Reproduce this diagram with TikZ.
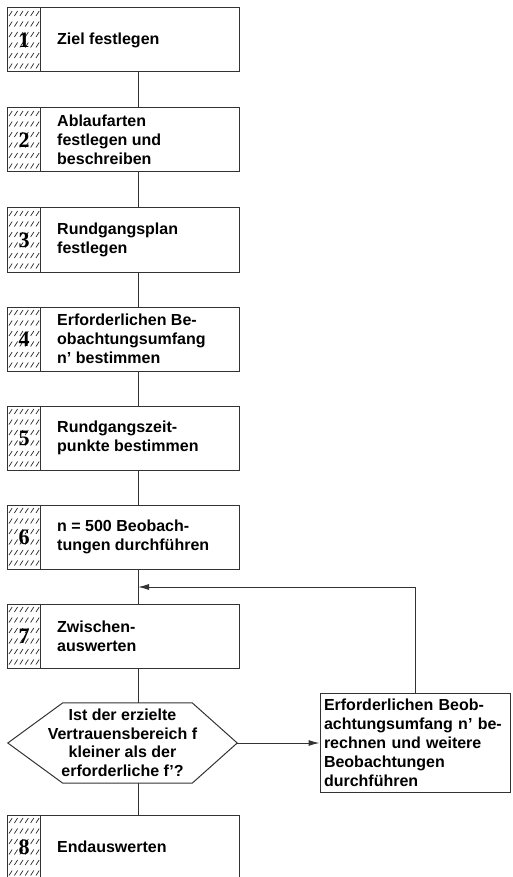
\documentclass[tikz,border=0pt]{standalone}
\usepackage{fontspec}
\setmainfont{Liberation Sans}
\newfontfamily\numfont{Liberation Serif}
\usetikzlibrary{arrows.meta,calc}
\begin{document}
\begin{tikzpicture}[x=1pt,y=-1pt,
  line/.style={draw=black!80,line width=1pt},
  stepbox/.style={line,rectangle,minimum width=232pt,minimum height=64pt,inner sep=0pt},
  steptext/.style={anchor=west,align=left,inner sep=0pt,font=\fontsize{16}{19}\selectfont\bfseries},
  stepnum/.style={inner sep=0pt,font=\fontsize{22}{22}\numfont\bfseries},
  hatch/.style={draw=black!85,line width=0.7pt},
  tip/.style={-{Latex[length=11pt,width=6pt]}}
]
\useasboundingbox (0,0) rectangle (512,877);
% x position of the vertical spine
\coordinate (sp) at (138,0);

% step boxes
\node[stepbox] (b1) at (123,40)  {};
\node[stepbox] (b2) at (123,140) {};
\node[stepbox] (b3) at (123,240) {};
\node[stepbox] (b4) at (123,339) {};
\node[stepbox] (b5) at (123,438) {};
\node[stepbox] (b6) at (123,537) {};
\node[stepbox] (b7) at (123,636) {};
\node[stepbox] (b8) at (123,847) {};

% hatched number columns
\foreach \b in {b1,b2,b3,b4,b5,b6,b7,b8}{
  \foreach \r in {0,...,5}{
    \foreach \k in {0,...,5}{
      \draw[hatch] ($(\b.north west)+(2.5+\k*5.4,8.5+\r*10.5)$) -- ++(3.2,-5);
    }
  }
  \draw[line] ($(\b.north west)+(34,0)$) -- ($(\b.south west)+(34,0)$);
}

% step numbers
\node[stepnum] (n1) at (24,40)  {1};
\node[stepnum] (n2) at (24,140) {2};
\node[stepnum] (n3) at (24,240) {3};
\node[stepnum] (n4) at (24,339) {4};
\node[stepnum] (n5) at (24,438) {5};
\node[stepnum] (n6) at (24,537) {6};
\node[stepnum] (n7) at (24,636) {7};
\node[stepnum] (n8) at (24,847) {8};

% step texts
\node[steptext] (t1) at (57,40)  {Ziel festlegen};
\node[steptext] (t2) at (57,140) {Ablaufarten\\festlegen und\\beschreiben};
\node[steptext] (t3) at (57,240) {Rundgangsplan\\festlegen};
\node[steptext] (t4) at (57,339) {Erforderlichen Be-\\obachtungsumfang\\n' bestimmen};
\node[steptext] (t5) at (57,438) {Rundgangszeit-\\punkte bestimmen};
\node[steptext] (t6) at (57,537) {n = 500 Beobach-\\tungen durchführen};
\node[steptext] (t7) at (57,636) {Zwischen-\\auswerten};
\node[steptext] (t8) at (57,847) {Endauswerten};

% decision
\node[inner sep=0pt,minimum width=229pt,minimum height=80pt,align=center,
      font=\fontsize{16}{18.5}\selectfont\bfseries] (q) at (122.5,743)
  {Ist der erzielte\\Vertrauensbereich f\\kleiner als der\\erforderliche f'?};
\draw[line] (q.west) -- ($(q.north west)+(55,0)$) -- ($(q.north east)+(-45,0)$)
  -- (q.east) -- ($(q.south east)+(-45,0)$) -- ($(q.south west)+(55,0)$) -- cycle;

% extra observations
\node[line,rectangle,minimum width=190pt,minimum height=99pt,text width=182pt,
      inner xsep=4pt,inner ysep=0pt,align=left,
      font=\fontsize{16}{19}\selectfont\bfseries] (rb) at (415,743)
  {Erforderlichen Beob-\\achtungsumfang n' be-\\rechnen und weitere\\Beobachtungen\\durchführen};

% connectors
\coordinate (j) at (138,587);
\draw[line] (b1.south -| sp) -- (b2.north -| sp);
\draw[line] (b2.south -| sp) -- (b3.north -| sp);
\draw[line] (b3.south -| sp) -- (b4.north -| sp);
\draw[line] (b4.south -| sp) -- (b5.north -| sp);
\draw[line] (b5.south -| sp) -- (b6.north -| sp);
\draw[line] (b6.south -| sp) -- (b7.north -| sp);
\draw[line] (b7.south -| sp) -- (q.north -| sp);
\draw[line] (q.south -| sp) -- (b8.north -| sp);
\draw[line,tip] (q.east) -- (rb.west);
\draw[line,tip] (rb.north) |- (j);
\end{tikzpicture}
\end{document}
